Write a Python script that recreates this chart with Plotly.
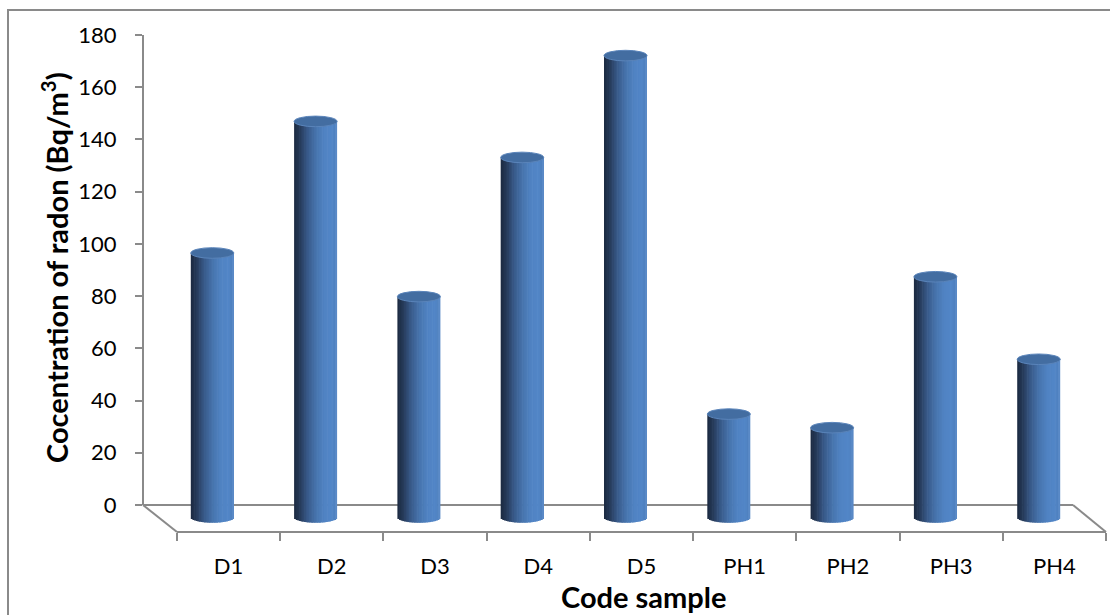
import numpy as np
import plotly.graph_objects as go

# Radon concentration per sample code (Bq/m3)
categories = ["D1", "D2", "D3", "D4", "D5", "PH1", "PH2", "PH3", "PH4"]
radon = [101.3, 151.7, 84.6, 137.9, 176.9, 39.6, 34.4, 92.2, 60.6]
y_ticks = [0, 20, 40, 60, 80, 100, 120, 140, 160, 180]

W, H = 1110, 615
FONT = "Lato, Carlito, Calibri, sans-serif"
GRAY = "#8a8a8a"


def px_x(p):
    return p / W


def px_y(p):
    return 1 - p / H


# pixel geometry of the chart frame
x_wall = 143            # vertical value axis
y_top, y_back = 35, 505  # 180 and 0 on the back wall
y_front = 532            # front floor edge
x_front0, x_front1 = 177, 1106
x_back1 = 1073
k = (y_back - y_top) / 180.0   # px per unit
cat_step = 103.3
bar_x0 = 212.3                 # centre of first cylinder
bar_zero = 517.5               # cylinder base (mid depth of floor)

bar_w = 43 / cat_step          # cylinder width in category units
cap_r = 5.3 / k                # half height of elliptical caps in value units

# horizontal shading across the cylinder body
stops_t = [0.0, 0.12, 0.30, 0.50, 0.70, 0.88, 0.96, 1.0]
stops_c = [(28, 42, 64), (36, 56, 86), (55, 88, 135), (70, 115, 172),
           (80, 131, 195), (82, 134, 199), (78, 128, 190), (100, 145, 205)]


def shade(t):
    r = np.interp(t, stops_t, [c[0] for c in stops_c])
    g = np.interp(t, stops_t, [c[1] for c in stops_c])
    b = np.interp(t, stops_t, [c[2] for c in stops_c])
    return f"rgb({r:.0f},{g:.0f},{b:.0f})"


xpos = np.arange(len(categories))
vals = np.array(radon)

fig = go.Figure()

n_strips = 26
dw = bar_w / n_strips
for j in range(n_strips):
    t = (j + 0.5) / n_strips
    s = np.sqrt(max(0.0, 1 - (2 * t - 1) ** 2))
    depth = cap_r * s
    width = dw * 1.4 if j < n_strips - 1 else dw
    fig.add_trace(go.Bar(
        x=xpos, y=vals + depth, base=[-depth] * len(vals),
        offset=-bar_w / 2 + j * dw, width=width,
        marker=dict(color=shade(t), line=dict(width=0)),
        xaxis="x", yaxis="y", showlegend=False, hoverinfo="skip",
    ))

# top faces of the cylinders
for xi, v in zip(xpos, vals):
    fig.add_shape(type="circle", xref="x", yref="y",
                  x0=xi - bar_w / 2, x1=xi + bar_w / 2,
                  y0=v - cap_r, y1=v + cap_r,
                  fillcolor="#436da1", line=dict(color="#5a84ba", width=1),
                  layer="above")

# carrier trace for the visible category / value axes
fig.add_trace(go.Scatter(x=categories, y=[None] * len(categories),
                         xaxis="x2", yaxis="y2", mode="markers",
                         showlegend=False, hoverinfo="skip"))

# floor outline and chart border
floor = [
    ((x_wall, y_back), (x_back1, y_back)),
    ((x_wall, y_back), (x_front0, y_front)),
    ((x_back1, y_back), (x_front1, y_front)),
]
for (a, b) in floor:
    fig.add_shape(type="line", xref="paper", yref="paper",
                  x0=px_x(a[0]), y0=px_y(a[1]), x1=px_x(b[0]), y1=px_y(b[1]),
                  line=dict(color=GRAY, width=2), layer="below")
fig.add_shape(type="rect", xref="paper", yref="paper",
              x0=px_x(8), y0=px_y(10), x1=px_x(1130), y1=px_y(640),
              line=dict(color=GRAY, width=2), fillcolor="rgba(0,0,0,0)")

fig.add_annotation(text="Cocentration of radon (Bq/m<sup>3</sup>)",
                   xref="paper", yref="paper", x=px_x(55), y=px_y(268),
                   xanchor="center", yanchor="middle",
                   textangle=-90, showarrow=False,
                   font=dict(family=FONT, size=29, color="black", weight="bold"))
fig.add_annotation(text="Code sample", xref="paper", yref="paper",
                   x=px_x(643), y=px_y(596), xanchor="center", yanchor="middle",
                   showarrow=False,
                   font=dict(family=FONT, size=29, color="black", weight="bold"))

fig.update_layout(
    width=W, height=H,
    margin=dict(l=0, r=0, t=0, b=0, autoexpand=False),
    paper_bgcolor="white", plot_bgcolor="rgba(0,0,0,0)",
    barmode="overlay",
    font=dict(family=FONT, color="black"),
    xaxis=dict(domain=[0, 1], range=[-bar_x0 / cat_step, (W - bar_x0) / cat_step],
               visible=False, fixedrange=True, automargin=False),
    yaxis=dict(domain=[0, 1], range=[(bar_zero - H) / k, bar_zero / k],
               visible=False, fixedrange=True, automargin=False),
    xaxis2=dict(type="category", categoryorder="array", categoryarray=categories,
                domain=[px_x(x_front0), px_x(x_front1)], range=[-0.5, len(categories) - 0.5],
                anchor="free", position=px_y(y_front), automargin=False,
                showline=True, linecolor=GRAY, linewidth=2,
                ticks="outside", tickson="boundaries", ticklen=8, tickcolor=GRAY, tickwidth=2,
                showgrid=False, zeroline=False, ticklabelstandoff=15,
                tickfont=dict(family=FONT, size=22, color="black")),
    yaxis2=dict(domain=[px_y(y_back), px_y(y_top)], range=[0, 180],
                anchor="free", position=px_x(x_wall), automargin=False,
                tickmode="array", tickvals=y_ticks,
                showline=True, linecolor=GRAY, linewidth=2,
                ticks="outside", ticklen=7, tickcolor=GRAY, tickwidth=2,
                showgrid=False, zeroline=False, ticklabelstandoff=14,
                tickfont=dict(family=FONT, size=22, color="black")),
)

fig.write_html("out.html")
